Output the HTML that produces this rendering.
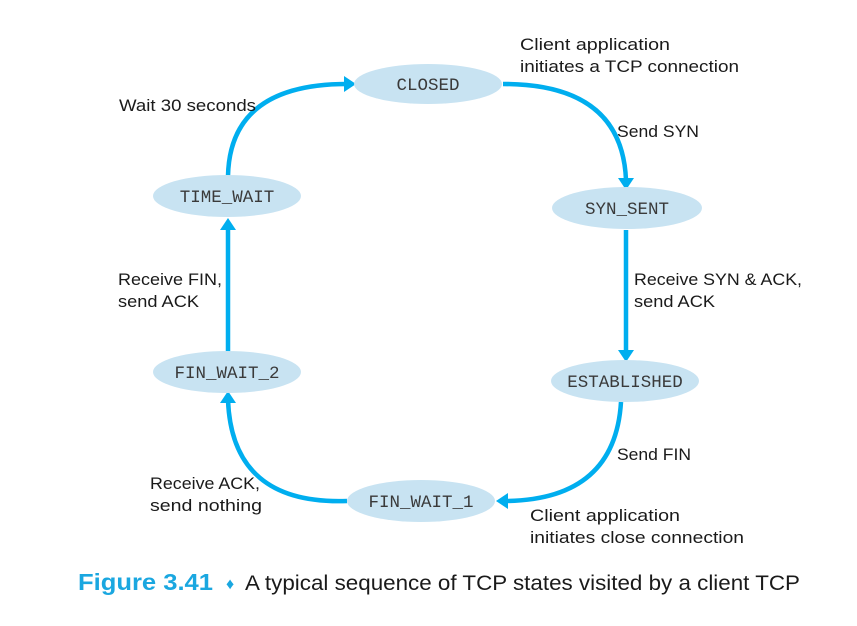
<!DOCTYPE html>
<html><head><style>
body{margin:0;background:#fff;}
svg{display:block}
.s{font-family:"Liberation Mono",monospace;font-size:17.5px;fill:#3a3a3a;}
.l{font-family:"Liberation Sans",sans-serif;font-size:17px;fill:#1a1a1a;}
</style></head><body>
<svg width="857" height="626" viewBox="0 0 857 626">
<g fill="none" stroke="#00aeef" stroke-width="4.5">
<path d="M503,84 Q622,84 626,180" />
<path d="M626,230 L626,352" />
<path d="M621,402 Q615,500 505,501" />
<path d="M347,501 Q232,505 228,400" />
<path d="M228,352 L228,225" />
<path d="M228,176 Q230,84 347,84" />
</g>
<g fill="#00aeef">
<path d="M618,178 L634,178 L626,190 Z"/>
<path d="M618,350 L634,350 L626,362 Z"/>
<path d="M508,493 L508,509 L496,501 Z"/>
<path d="M220,403 L236,403 L228,391 Z"/>
<path d="M220,230 L236,230 L228,218 Z"/>
<path d="M344,76 L344,92 L356,84 Z"/>
</g>
<g fill="#c8e3f2">
<ellipse cx="428" cy="84" rx="74" ry="20"/>
<ellipse cx="627" cy="208" rx="75" ry="21"/>
<ellipse cx="625" cy="381" rx="74" ry="21"/>
<ellipse cx="421" cy="501" rx="74" ry="21"/>
<ellipse cx="227" cy="372" rx="74" ry="21"/>
<ellipse cx="227" cy="196" rx="74" ry="21"/>
</g>
<g class="s" text-anchor="middle">
<text x="428" y="90">CLOSED</text>
<text x="627" y="214">SYN_SENT</text>
<text x="625" y="387">ESTABLISHED</text>
<text x="421" y="507">FIN_WAIT_1</text>
<text x="227" y="378">FIN_WAIT_2</text>
<text x="227" y="202">TIME_WAIT</text>
</g>
<g class="l">
<text x="520" y="50" textLength="150" lengthAdjust="spacingAndGlyphs">Client application</text>
<text x="520" y="72" textLength="219" lengthAdjust="spacingAndGlyphs">initiates a TCP connection</text>
<text x="119" y="111" textLength="137" lengthAdjust="spacingAndGlyphs">Wait 30 seconds</text>
<text x="617" y="137" textLength="82" lengthAdjust="spacingAndGlyphs">Send SYN</text>
<text x="634" y="285" textLength="168" lengthAdjust="spacingAndGlyphs">Receive SYN &amp; ACK,</text>
<text x="634" y="307" textLength="81" lengthAdjust="spacingAndGlyphs">send ACK</text>
<text x="118" y="285" textLength="104" lengthAdjust="spacingAndGlyphs">Receive FIN,</text>
<text x="118" y="307" textLength="81" lengthAdjust="spacingAndGlyphs">send ACK</text>
<text x="617" y="460" textLength="74" lengthAdjust="spacingAndGlyphs">Send FIN</text>
<text x="150" y="489" textLength="110" lengthAdjust="spacingAndGlyphs">Receive ACK,</text>
<text x="150" y="511" textLength="112" lengthAdjust="spacingAndGlyphs">send nothing</text>
<text x="530" y="521" textLength="150" lengthAdjust="spacingAndGlyphs">Client application</text>
<text x="530" y="543" textLength="214" lengthAdjust="spacingAndGlyphs">initiates close connection</text>
</g>
<text x="78" y="590" font-family="Liberation Sans,sans-serif" font-size="23" font-weight="bold" fill="#1aa7e0" textLength="135" lengthAdjust="spacingAndGlyphs">Figure 3.41</text>
<text x="226" y="589" font-family="Liberation Sans,sans-serif" font-size="16" fill="#1aa7e0">♦</text>
<text x="245" y="590" font-family="Liberation Sans,sans-serif" font-size="21" fill="#1a1a1a" textLength="555" lengthAdjust="spacingAndGlyphs">A typical sequence of TCP states visited by a client TCP</text>
</svg>
</body></html>
